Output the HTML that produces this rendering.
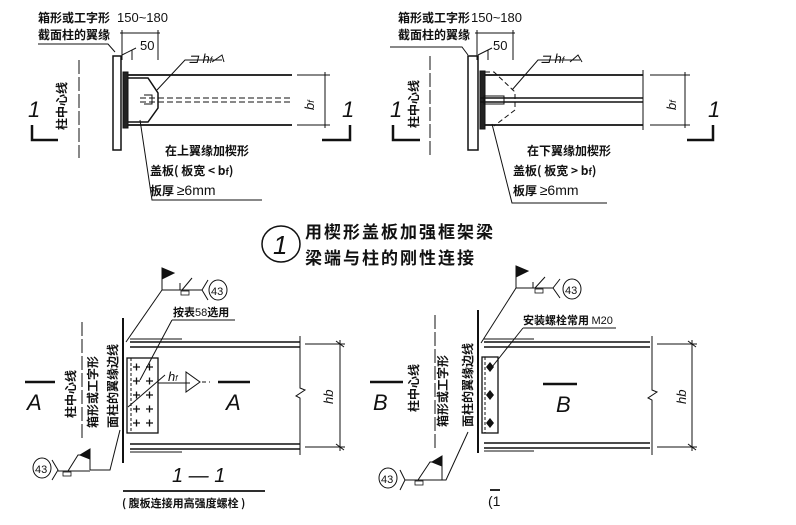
<!DOCTYPE html>
<html><head><meta charset="utf-8"><style>
html,body{margin:0;padding:0;background:#fff;}
svg{display:block;font-family:"Liberation Sans","Noto Sans CJK SC",sans-serif;}
.c{font-family:"Noto Sans CJK SC","WenQuanYi Zen Hei",sans-serif;font-weight:bold;}
</style></head><body>
<svg width="796" height="525" viewBox="0 0 796 525" xmlns="http://www.w3.org/2000/svg" fill="none" stroke="#111" stroke-width="1">
<!-- ============ TOP LEFT ============ -->
<g>
<text class="c" x="38" y="22" font-size="12" fill="#111" stroke="none">箱形或工字形</text>
<text class="c" x="38" y="39" font-size="12" fill="#111" stroke="none">截面柱的翼缘</text>
<text x="117" y="22" font-size="13" fill="#111" stroke="none">150~180</text>
<text x="140" y="50" font-size="13" fill="#111" stroke="none">50</text>
<polyline points="38,44 108,44 115,52"/>
<line x1="120" y1="33" x2="160" y2="33"/><line x1="122" y1="30" x2="122" y2="60"/><line x1="158" y1="30" x2="158" y2="60"/>
<line x1="122" y1="55" x2="136" y2="48"/><line x1="132" y1="50" x2="132" y2="60"/>
<rect x="113" y="56" width="8" height="94" stroke-width="1.5"/>
<rect x="123" y="72" width="5" height="56" fill="#222"/>
<line x1="128" y1="75" x2="292" y2="75" stroke-width="1.8"/>
<line x1="128" y1="125" x2="292" y2="125" stroke-width="1.8"/>
<line x1="140" y1="98" x2="292" y2="98" stroke-dasharray="6,3"/>
<line x1="140" y1="102" x2="292" y2="102" stroke-dasharray="6,3"/>
<polyline points="128,78 148,78 158,93 158,108 148,122 128,122" stroke-width="1.5"/>
<polyline points="144,95 152,95 152,104 144,104" />
<polyline points="157,90 185,60 222,60"/>
<text x="188" y="63" font-size="13" font-style="italic" fill="#111" stroke="none">⊐ h<tspan font-size="9">f</tspan></text>
<polyline points="212,62 222,55 224,62"/>
<line x1="79" y1="60" x2="79" y2="158" stroke-dasharray="14,3"/>
<text class="c" transform="translate(66,130) rotate(-90)" font-size="12" fill="#111" stroke="none">柱中心线</text>
<text x="28" y="117" font-size="22" font-style="italic" fill="#111" stroke="none">1</text>
<polyline points="32,125 32,140 58,140" stroke-width="2.5"/>
<text x="342" y="117" font-size="22" font-style="italic" fill="#111" stroke="none">1</text>
<polyline points="322,140 350,140 350,125" stroke-width="2.5"/>
<line x1="297" y1="75" x2="330" y2="75"/><line x1="297" y1="125" x2="330" y2="125"/>
<line x1="325" y1="72" x2="325" y2="128"/>
<text x="0" y="0" transform="translate(314,110) rotate(-90)" font-size="13" font-style="italic" fill="#111" stroke="none">b<tspan font-size="9">f</tspan></text>
<polyline points="140,120 152,200 262,200"/>
<text class="c" x="165" y="155" font-size="12" fill="#111" stroke="none">在上翼缘加楔形</text>
<text class="c" x="150" y="175" font-size="12" fill="#111" stroke="none">盖板( 板宽 &lt; b<tspan font-size="9">f</tspan>)</text>
<text class="c" x="150" y="195" font-size="12" fill="#111" stroke="none">板厚 <tspan font-family="Liberation Sans" font-weight="normal" font-size="14">≥6mm</tspan></text>
</g>
<!-- ============ TOP RIGHT ============ -->
<g>
<text class="c" x="398" y="22" font-size="12" fill="#111" stroke="none">箱形或工字形</text>
<text class="c" x="398" y="39" font-size="12" fill="#111" stroke="none">截面柱的翼缘</text>
<text x="471" y="22" font-size="13" fill="#111" stroke="none">150~180</text>
<text x="493" y="50" font-size="13" fill="#111" stroke="none">50</text>
<polyline points="390,47 462,47 468,55"/>
<line x1="475" y1="33" x2="515" y2="33"/><line x1="477" y1="30" x2="477" y2="60"/><line x1="513" y1="30" x2="513" y2="60"/>
<line x1="478" y1="55" x2="492" y2="48"/><line x1="488" y1="50" x2="488" y2="60"/>
<rect x="468" y="56" width="10" height="94" stroke-width="1.5"/>
<rect x="480" y="71" width="5" height="58" fill="#222"/>
<line x1="485" y1="75" x2="643" y2="75" stroke-width="1.8"/>
<line x1="485" y1="125" x2="643" y2="125" stroke-width="1.8"/>
<line x1="480" y1="98" x2="643" y2="98" stroke-width="1.5"/>
<line x1="480" y1="102" x2="643" y2="102" stroke-width="1.5"/>
<rect x="484" y="96" width="20" height="8"/>
<polyline points="485,72 494,72 515,92 515,110 494,126" stroke-dasharray="5,3"/>
<line x1="643" y1="70" x2="643" y2="130"/>
<polyline points="512,90 538,60 580,60"/>
<text x="540" y="63" font-size="13" font-style="italic" fill="#111" stroke="none">⊐ h<tspan font-size="9">f</tspan></text>
<polyline points="570,62 578,55 582,62"/>
<line x1="430" y1="56" x2="430" y2="158" stroke-dasharray="14,3"/>
<text class="c" transform="translate(418,128) rotate(-90)" font-size="12" fill="#111" stroke="none">柱中心线</text>
<text x="390" y="117" font-size="22" font-style="italic" fill="#111" stroke="none">1</text>
<polyline points="393,125 393,140 420,140" stroke-width="2.5"/>
<text x="708" y="117" font-size="22" font-style="italic" fill="#111" stroke="none">1</text>
<polyline points="687,140 713,140 713,125" stroke-width="2.5"/>
<line x1="650" y1="75" x2="690" y2="75"/><line x1="650" y1="125" x2="690" y2="125"/>
<line x1="685" y1="72" x2="685" y2="128"/>
<text transform="translate(676,110) rotate(-90)" font-size="13" font-style="italic" fill="#111" stroke="none">b<tspan font-size="9">f</tspan></text>
<polyline points="492,124 512,203 607,203"/>
<text class="c" x="527" y="155" font-size="12" fill="#111" stroke="none">在下翼缘加楔形</text>
<text class="c" x="513" y="175" font-size="12" fill="#111" stroke="none">盖板( 板宽 &gt; b<tspan font-size="9">f</tspan>)</text>
<text class="c" x="513" y="195" font-size="12" fill="#111" stroke="none">板厚 <tspan font-family="Liberation Sans" font-weight="normal" font-size="14">≥6mm</tspan></text>
</g>
<!-- ============ TITLE ============ -->
<ellipse cx="281" cy="244" rx="19" ry="18" stroke-width="1.5"/>
<text x="273" y="254" font-size="26" font-style="italic" fill="#111" stroke="none">1</text>
<text class="c" x="305" y="238" font-size="17" fill="#111" stroke="none" letter-spacing="2">用楔形盖板加强框架梁</text>
<text class="c" x="305" y="264" font-size="17" fill="#111" stroke="none" letter-spacing="2">梁端与柱的刚性连接</text>
<!-- ============ BOTTOM LEFT ============ -->
<g>
<line x1="123" y1="318" x2="123" y2="463" stroke-width="2"/>
<line x1="130" y1="342" x2="300" y2="342" stroke-width="1.5"/><line x1="130" y1="347" x2="300" y2="347" stroke-width="1.5"/>
<line x1="130" y1="444" x2="300" y2="444" stroke-width="1.5"/><line x1="130" y1="449" x2="300" y2="449" stroke-width="1.5"/>
<line x1="130" y1="339" x2="182" y2="339"/><line x1="130" y1="452" x2="182" y2="452"/>
<polyline points="300,336 300,388 305,390 296,396 300,398 300,455"/>
<rect x="127" y="358" width="31" height="75" stroke-width="1.3"/>
<line x1="131" y1="358" x2="131" y2="433" stroke-dasharray="3,2"/>
<g stroke-width="1.3">
<path d="M133,367h7M136.5,363.5v7M146,367h7M149.5,363.5v7"/>
<path d="M133,381h7M136.5,377.5v7M146,381h7M149.5,377.5v7"/>
<path d="M133,395h7M136.5,391.5v7M146,395h7M149.5,391.5v7"/>
<path d="M133,409h7M136.5,405.5v7M146,409h7M149.5,405.5v7"/>
<path d="M133,423h7M136.5,419.5v7M146,423h7M149.5,419.5v7"/>
</g>
<line x1="158" y1="383" x2="190" y2="383"/>
<text x="168" y="381" font-size="13" font-style="italic" fill="#111" stroke="none">h<tspan font-size="8">f</tspan></text>
<polygon points="186,372 186,392 200,382"/>
<line x1="202" y1="382" x2="210" y2="382" stroke-dasharray="4,3"/>
<line x1="25" y1="382" x2="55" y2="382" stroke-width="2.5"/>
<text x="27" y="410" font-size="22" font-style="italic" fill="#111" stroke="none">A</text>
<line x1="218" y1="382" x2="250" y2="382" stroke-width="2.5"/>
<text x="226" y="410" font-size="22" font-style="italic" fill="#111" stroke="none">A</text>
<line x1="305" y1="344" x2="345" y2="344"/><line x1="305" y1="447" x2="345" y2="447"/>
<line x1="340" y1="340" x2="340" y2="451"/>
<line x1="336" y1="341" x2="344" y2="347"/><line x1="336" y1="444" x2="344" y2="450"/>
<text transform="translate(333,404) rotate(-90)" font-size="13" font-style="italic" fill="#111" stroke="none">hb</text>
<line x1="82" y1="322" x2="82" y2="440" stroke-dasharray="14,3"/>
<text class="c" transform="translate(75,418) rotate(-90)" font-size="12" fill="#111" stroke="none">柱中心线</text>
<text class="c" transform="translate(97,428) rotate(-90)" font-size="12" fill="#111" stroke="none">箱形或工字形</text>
<text class="c" transform="translate(117,428) rotate(-90)" font-size="12" fill="#111" stroke="none">面柱的翼缘边线</text>
<!-- top weld symbol -->
<line x1="126" y1="342" x2="162" y2="290"/>
<polyline points="162,290 162,272"/><polygon points="162,268 174,273 162,279" fill="#111"/>
<polyline points="162,290 180,290 180,283"/>
<rect x="181" y="291" width="8" height="4" stroke-width="0.8"/>
<line x1="180" y1="290" x2="202" y2="290"/>
<line x1="182" y1="290" x2="192" y2="278"/>
<polyline points="208,280 202,290 208,300"/>
<ellipse cx="218" cy="290" rx="9" ry="10"/>
<text x="211" y="295" font-size="11" fill="#111" stroke="none">43</text>
<line x1="140" y1="380" x2="172" y2="320"/>
<line x1="172" y1="320" x2="235" y2="320"/>
<text class="c" x="173" y="316" font-size="11" fill="#111" stroke="none">按表<tspan font-family="Liberation Sans" font-weight="normal">58</tspan>选用</text>
<line x1="128" y1="407" x2="165" y2="375"/>
<!-- bottom weld -->
<polyline points="120,430 110,470 90,470"/>
<polyline points="90,470 90,455"/><polygon points="80,455 90,449 90,459" fill="#111"/>
<polyline points="68,471 78,455 90,455"/>
<line x1="58" y1="471" x2="90" y2="471"/>
<rect x="63" y="472" width="8" height="4" stroke-width="0.8"/>
<polyline points="52,460 58,470 52,480"/>
<ellipse cx="42" cy="468" rx="9" ry="10"/>
<text x="35" y="473" font-size="11" fill="#111" stroke="none">43</text>
<text x="172" y="482" font-size="20" font-style="italic" fill="#111" stroke="none">1 — 1</text>
<line x1="123" y1="491" x2="265" y2="491" stroke-width="1.8"/>
<text class="c" x="122" y="507" font-size="11" fill="#111" stroke="none">( 腹板连接用高强度螺栓 )</text>
</g>
<!-- ============ BOTTOM RIGHT ============ -->
<g>
<line x1="478" y1="310" x2="478" y2="453" stroke-width="2"/>
<line x1="484" y1="342" x2="650" y2="342" stroke-width="1.5"/><line x1="484" y1="347" x2="650" y2="347" stroke-width="1.5"/>
<line x1="484" y1="443" x2="650" y2="443" stroke-width="1.5"/><line x1="484" y1="448" x2="650" y2="448" stroke-width="1.5"/>
<line x1="484" y1="339" x2="534" y2="339"/><line x1="484" y1="451" x2="534" y2="451"/>
<polyline points="652,336 652,390 657,392 648,398 652,400 652,455"/>
<rect x="482" y="357" width="16" height="76" stroke-width="1.3"/>
<line x1="485" y1="357" x2="485" y2="433" stroke-dasharray="3,2"/>
<g fill="#111" stroke="none">
<polygon points="490,362 494,367 490,372 486,367"/>
<polygon points="490,390 494,395 490,400 486,395"/>
<polygon points="490,418 494,423 490,428 486,423"/>
</g>
<line x1="370" y1="382" x2="403" y2="382" stroke-width="2.5"/>
<text x="373" y="410" font-size="22" font-style="italic" fill="#111" stroke="none">B</text>
<line x1="543" y1="384" x2="577" y2="384" stroke-width="2.5"/>
<text x="556" y="412" font-size="22" font-style="italic" fill="#111" stroke="none">B</text>
<line x1="657" y1="344" x2="697" y2="344"/><line x1="657" y1="447" x2="697" y2="447"/>
<line x1="692" y1="340" x2="692" y2="451"/>
<line x1="688" y1="341" x2="696" y2="347"/><line x1="688" y1="444" x2="696" y2="450"/>
<text transform="translate(686,404) rotate(-90)" font-size="13" font-style="italic" fill="#111" stroke="none">hb</text>
<line x1="435" y1="315" x2="435" y2="448" stroke-dasharray="14,3"/>
<text class="c" transform="translate(418,412) rotate(-90)" font-size="12" fill="#111" stroke="none">柱中心线</text>
<text class="c" transform="translate(447,427) rotate(-90)" font-size="12" fill="#111" stroke="none">箱形或工字形</text>
<text class="c" transform="translate(472,427) rotate(-90)" font-size="12" fill="#111" stroke="none">面柱的翼缘边线</text>
<line x1="481" y1="343" x2="516" y2="288"/>
<polyline points="516,288 516,270"/><polygon points="516,266 528,271 516,277" fill="#111"/>
<polyline points="516,288 533,288 533,282"/>
<rect x="535" y="289" width="8" height="4" stroke-width="0.8"/>
<line x1="533" y1="288" x2="553" y2="288"/>
<line x1="535" y1="288" x2="545" y2="277"/>
<polyline points="560,279 553,288 560,298"/>
<ellipse cx="572" cy="289" rx="9" ry="10"/>
<text x="565" y="294" font-size="11" fill="#111" stroke="none">43</text>
<line x1="492" y1="367" x2="523" y2="328"/>
<line x1="523" y1="328" x2="616" y2="328"/>
<text class="c" x="523" y="324" font-size="11" fill="#111" stroke="none">安装螺栓常用 <tspan font-family="Liberation Sans" font-weight="normal">M20</tspan></text>
<polyline points="468,432 446,480 422,480"/>
<polyline points="442,480 442,462"/><polygon points="432,462 442,456 442,466" fill="#111"/>
<polyline points="418,480 430,462 442,462"/>
<line x1="405" y1="480" x2="442" y2="480"/>
<rect x="415" y="481" width="8" height="4" stroke-width="0.8"/>
<polyline points="400,470 405,480 400,490"/>
<ellipse cx="388" cy="478" rx="9" ry="10"/>
<text x="381" y="483" font-size="11" fill="#111" stroke="none">43</text>
<line x1="490" y1="490" x2="500" y2="490" stroke-width="1.8"/>
<text x="488" y="506" font-size="14" fill="#111" stroke="none">(1</text>
</g>
</svg>
</body></html>
